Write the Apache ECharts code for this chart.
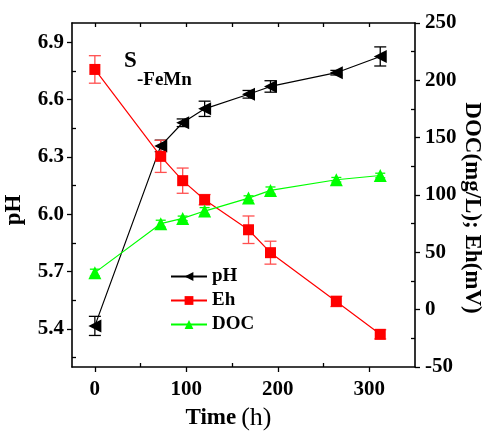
<!DOCTYPE html>
<html><head><meta charset="utf-8">
<script src="https://cdn.jsdelivr.net/npm/echarts@6/dist/echarts.min.js"></script>
<style>html,body{margin:0;padding:0;background:#fff}#c{width:487px;height:435px}</style>
</head><body><div id="c"></div>
<script>
// ---- data ----
const time = [0, 72, 96, 120, 168, 192, 264, 312];
const pH = [5.415, 6.357, 6.478, 6.551, 6.627, 6.668, 6.74, 6.825];
const pHErr = [0.05, 0.03, 0.02, 0.04, 0.02, 0.03, 0.012, 0.05];
const Eh = [209.5, 133.7, 112.5, 95.9, 69.7, 49.7, 7.2, -21.5];
const EhErr = [12, 14, 11, 4.5, 12, 10, 4.5, 4];
const DOC = [32.3, 75, 79.6, 86, 97.3, 104, 113.3, 117];
const DOCErr = [3, 3, 2, 3, 2, 3, 2, 2];
const xLabels = [0, 100, 200, 300];
const xMinor = [50, 150, 250];
const pHLabels = [5.4, 5.7, 6.0, 6.3, 6.6, 6.9];
const pHMinor = [5.25, 5.55, 5.85, 6.15, 6.45, 6.75];
const rightMinor = [-25, 25, 75, 125, 175, 225];

const FONT = '"Liberation Serif", "Times New Roman", serif';
const chart = echarts.init(document.getElementById('c'));

function pairs(v) { return time.map((t, i) => [t, v[i]]); }
function errData(v, e) { return time.map((t, i) => [t, v[i] - e[i], v[i] + e[i]]); }
function errSeries(name, yIdx, v, e, color, cap) {
  return {
    type: 'custom', name: name + 'err', yAxisIndex: yIdx, silent: true, z: 1,
    data: errData(v, e),
    renderItem: function (params, api) {
      const lo = api.coord([api.value(0), api.value(1)]);
      const hi = api.coord([api.value(0), api.value(2)]);
      const st = { stroke: color, lineWidth: 1.3 };
      return { type: 'group', children: [
        { type: 'line', shape: { x1: lo[0], y1: lo[1], x2: hi[0], y2: hi[1] }, style: st },
        { type: 'line', shape: { x1: lo[0] - cap, y1: lo[1], x2: lo[0] + cap, y2: lo[1] }, style: st },
        { type: 'line', shape: { x1: hi[0] - cap, y1: hi[1], x2: hi[0] + cap, y2: hi[1] }, style: st }
      ]};
    }
  };
}
const axLine = { show: true, onZero: false, lineStyle: { color: '#000', width: 1.6 } };
const noLine = { show: false, onZero: false };
const lab = { color: '#000', fontFamily: FONT, fontWeight: 'bold', fontSize: 21 };
const tickStyle = { color: '#000', width: 1.3 };

chart.setOption({
  animation: false,
  grid: { left: 72, right: 72, top: 23, bottom: 68, containLabel: false, outerBoundsMode: 'none' },
  legend: {
    orient: 'vertical', left: 170, top: 267, padding: 0, itemWidth: 36, itemHeight: 11, itemGap: 5,
    data: ['pH', 'Eh', 'DOC'],
    textStyle: { fontFamily: FONT, fontWeight: 'bold', fontSize: 19, color: '#000' }
  },
  xAxis: [
    { type: 'value', min: -25, max: 350, position: 'bottom', axisLine: axLine, splitLine: { show: false },
      axisTick: { customValues: xLabels, length: 5, inside: false, lineStyle: tickStyle },
      axisLabel: Object.assign({ customValues: xLabels, margin: 12 }, lab),
      name: '{b|Time}{n|(h)}', nameLocation: 'middle', nameGap: 35,
      nameTextStyle: { padding: [0, 30, 0, 0], rich: {
        b: { fontFamily: FONT, fontWeight: 'bold', fontSize: 23, color: '#000', padding: [0, 5, 0, 0] },
        n: { fontFamily: FONT, fontWeight: 'normal', fontSize: 26, color: '#000' } } } },
    { type: 'value', min: -25, max: 350, position: 'bottom', axisLine: noLine, splitLine: { show: false },
      axisTick: { customValues: xMinor, length: 4, inside: true, lineStyle: tickStyle },
      axisLabel: { show: false } },
    { type: 'value', min: -25, max: 350, position: 'top', axisLine: axLine, splitLine: { show: false },
      axisTick: { customValues: [0, 50, 100, 150, 200, 250, 300], length: 4, inside: true, lineStyle: tickStyle },
      axisLabel: { show: false } }
  ],
  yAxis: [
    { type: 'value', min: 5.2, max: 7.0, position: 'left', axisLine: axLine, splitLine: { show: false },
      axisTick: { customValues: pHLabels, length: 5, inside: false, lineStyle: tickStyle },
      axisLabel: Object.assign({ customValues: pHLabels, margin: 8, formatter: v => v.toFixed(1) }, lab),
      name: 'pH', nameLocation: 'middle', nameGap: 46, nameRotate: 90,
      nameTextStyle: { fontFamily: FONT, fontWeight: 'bold', fontSize: 23, color: '#000', padding: [0, 30, 0, 0] } },
    { type: 'value', min: -50, max: 250, interval: 50, position: 'right', axisLine: axLine, splitLine: { show: false },
      axisTick: { length: 5, inside: false, lineStyle: tickStyle },
      axisLabel: Object.assign({ margin: 10 }, lab),
      name: 'DOC(mg/L); Eh(mV)', nameLocation: 'middle', nameGap: 45, nameRotate: -90, nameMoveOverlap: false,
      nameTextStyle: { fontFamily: FONT, fontWeight: 'bold', fontSize: 23, color: '#000', padding: [0, 0, 0, 26] } },
    { type: 'value', min: 5.2, max: 7.0, position: 'left', axisLine: noLine, splitLine: { show: false },
      axisTick: { customValues: pHMinor, length: 4, inside: true, lineStyle: tickStyle },
      axisLabel: { show: false } },
    { type: 'value', min: -50, max: 250, position: 'right', axisLine: noLine, splitLine: { show: false },
      axisTick: { customValues: rightMinor, length: 4, inside: true, lineStyle: tickStyle },
      axisLabel: { show: false } }
  ],
  graphic: [
    { type: 'text', left: 124, top: 50, style: { text: 'S', fontFamily: FONT, fontWeight: 'bold', fontSize: 23, fill: '#000' } },
    { type: 'text', left: 137, top: 71, style: { text: '-FeMn', fontFamily: FONT, fontWeight: 'bold', fontSize: 19, fill: '#000' } }
  ],
  series: [
    errSeries('pH', 0, pH, pHErr, '#000', 6),
    errSeries('Eh', 1, Eh, EhErr, '#ff5050', 6),
    errSeries('DOC', 1, DOC, DOCErr, '#00ff00', 5),
    { type: 'line', name: 'pH', yAxisIndex: 0, data: pairs(pH), symbol: 'triangle', symbolRotate: 90, symbolSize: 13,
      itemStyle: { color: '#000' }, lineStyle: { color: '#000', width: 1.2 }, z: 3 },
    { type: 'line', name: 'Eh', yAxisIndex: 1, data: pairs(Eh), symbol: 'rect', symbolSize: 11,
      itemStyle: { color: '#ff0000' }, lineStyle: { color: '#ff0000', width: 1.2 }, z: 3 },
    { type: 'line', name: 'DOC', yAxisIndex: 1, data: pairs(DOC), symbol: 'triangle', symbolSize: 13,
      itemStyle: { color: '#00ff00' }, lineStyle: { color: '#00ff00', width: 1.2 }, z: 3 }
  ]
});
</script></body></html>
